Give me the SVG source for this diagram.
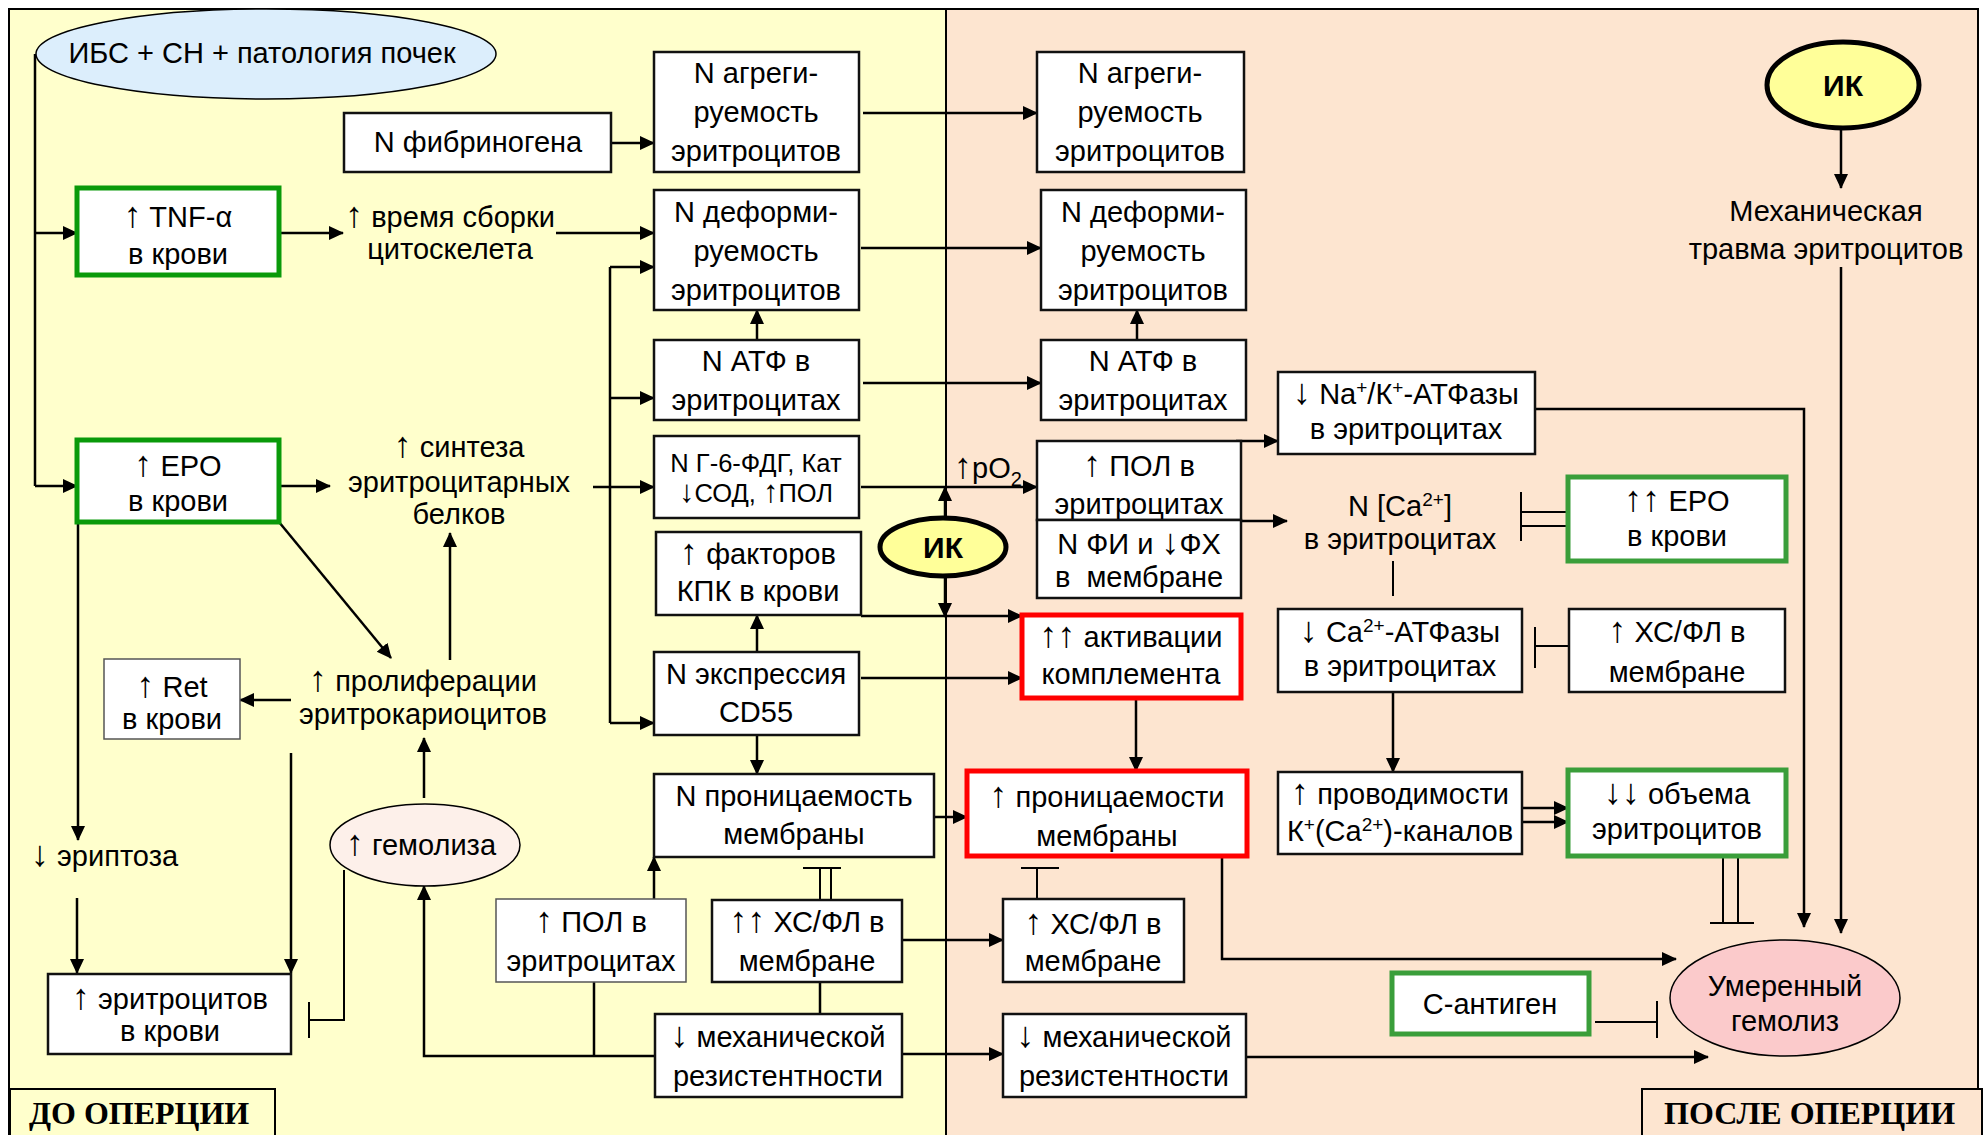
<svg xmlns="http://www.w3.org/2000/svg" width="1984" height="1135" viewBox="0 0 1984 1135">
<defs>
<marker id="ah" markerUnits="userSpaceOnUse" markerWidth="16" markerHeight="16" refX="14" refY="7" orient="auto"><path d="M0,0 L15,7 L0,14 z" fill="#000"/></marker>
<style>
.t{font-family:"Liberation Sans",Arial,sans-serif;font-size:29px;text-anchor:middle;fill:#000}
.ts{font-size:25.5px}
.ar{font-size:36px}
.lb{font-family:"Liberation Serif","Times New Roman",serif;font-size:32px;font-weight:bold;fill:#000}
.bx{fill:#fff;stroke:#111;stroke-width:2.5}
.bt{fill:#fff;stroke:#555;stroke-width:1.5}
.g1{fill:#fff;stroke:#0A9A0A;stroke-width:5}
.g2{fill:#fff;stroke:#3A9E3A;stroke-width:5}
.rd{fill:#fff;stroke:#FF0000;stroke-width:5}
.c{fill:none;stroke:#000;stroke-width:2.5}
.a{marker-end:url(#ah)}
.i{fill:none;stroke:#000;stroke-width:2}
.ik{fill:#FFFF99;stroke:#000;stroke-width:5}
.ikt{font-family:"Liberation Sans",Arial,sans-serif;font-size:30px;font-weight:bold;text-anchor:middle}
</style>
</defs>
<rect width="1984" height="1135" fill="#fff"/>
<g id="background">
<rect x="9" y="9" width="937" height="1130" fill="#FFFFCC"/>
<rect x="946" y="9" width="1032" height="1130" fill="#FDE5D0"/>
<rect x="9" y="9" width="1969" height="1130" fill="none" stroke="#000" stroke-width="2"/>
<line x1="946" y1="9" x2="946" y2="1135" stroke="#000" stroke-width="2"/>
</g>

<g id="connectors">
<path class="c" d="M35,54 V486"/>
<path class="c a" d="M35,233 H77"/>
<path class="c a" d="M35,486 H77"/>
<path class="c a" d="M279,233 H343"/>
<path class="c a" d="M556,233 H654"/>
<path class="c" d="M610,267 V723"/>
<path class="c a" d="M610,267 H654"/>
<path class="c a" d="M610,398 H654"/>
<path class="c a" d="M610,723 H654"/>
<path class="c a" d="M611,143 H654"/>
<path class="c a" d="M863,113 H1037"/>
<path class="c a" d="M861,248 H1041"/>
<path class="c a" d="M757,340 V310"/>
<path class="c a" d="M1137,340 V310"/>
<path class="c a" d="M863,383 H1041"/>
<path class="c a" d="M279,486 H330"/>
<path class="c a" d="M593,487 H654"/>
<path class="c a" d="M861,487 H1037"/>
<path class="c a" d="M945,518 V487"/>
<path class="c a" d="M945,576 V617"/>
<path class="c a" d="M861,616 H1022"/>
<path class="c a" d="M757,652 V615"/>
<path class="c a" d="M861,678 H1022"/>
<path class="c a" d="M757,735 V774"/>
<path class="c a" d="M1136,698 V771"/>
<path class="c a" d="M934,817 H967"/>
<path class="c a" d="M654,899 V857"/>
<path class="c" d="M594,982 V1056"/>
<path class="c a" d="M655,1056 H424 V886"/>
<path class="c" d="M820,982 V1014"/>
<path class="c a" d="M902,940 H1003"/>
<path class="c a" d="M902,1054 H1003"/>
<path class="c a" d="M1246,1057 H1708"/>
<path class="c a" d="M1222,856 V959 H1676"/>
<path class="c a" d="M1236,441 H1278"/>
<path class="c a" d="M1241,521 H1287"/>
<path class="c a" d="M1535,409 H1804 V927"/>
<path class="c a" d="M1841,267 V933"/>
<path class="c a" d="M1841,128 V188"/>
<path class="i" d="M1393,561 V596"/>
<path class="c a" d="M1393,692 V772"/>
<path class="c a" d="M1522,808 H1568"/>
<path class="c a" d="M1522,822 H1568"/>
<path class="i" d="M1723,856 V923 M1738,856 V923 M1710,923 H1754"/>
<path class="i" d="M1568,512 H1521 M1568,526 H1521 M1521,492 V541"/>
<path class="i" d="M1568,646 H1535 M1535,627 V668"/>
<path class="i" d="M1595,1022 H1657 M1657,1001 V1038"/>
<path class="i" d="M820,900 V868 M831,900 V868 M803,868 H841"/>
<path class="i" d="M1037,899 V868 M1021,868 H1059"/>
<path class="c a" d="M279,522 L391,658"/>
<path class="c a" d="M450,660 V533"/>
<path class="c a" d="M291,700 H240"/>
<path class="c a" d="M78,522 V840"/>
<path class="c a" d="M77,898 V973"/>
<path class="c a" d="M291,753 V973"/>
<path class="i" d="M344,870 V1020 H309 M309,1002 V1038"/>
<path class="c a" d="M424,798 V738"/>
<text class="t" x="988" y="478"><tspan class="ar">↑</tspan>pO<tspan dy="8" font-size="20">2</tspan></text>
</g>

<g id="ibs"><ellipse cx="266" cy="54" rx="230" ry="45" fill="#DCEEFC" stroke="#000" stroke-width="1.5"/><text class="t" x="262" y="63">ИБС + СН + патология почек</text></g>
<g id="fib"><rect class="bx" x="344" y="113" width="267" height="59"/><text class="t" x="478" y="152">N фибриногена</text></g>
<g id="tnf"><rect class="g1" x="77" y="188" width="202" height="87"/><text class="t"><tspan x="178" y="227"><tspan class="ar">↑</tspan> TNF-α</tspan><tspan x="178" y="264">в крови</tspan></text></g>
<g id="cytoskeleton"><text class="t"><tspan x="450" y="227"><tspan class="ar">↑</tspan> время сборки</tspan><tspan x="450" y="259">цитоскелета</tspan></text></g>
<g id="epo"><rect class="g1" x="77" y="440" width="202" height="82"/><text class="t"><tspan x="178" y="476"><tspan class="ar">↑</tspan> EPO</tspan><tspan x="178" y="511">в крови</tspan></text></g>
<g id="synth"><text class="t"><tspan x="459" y="457"><tspan class="ar">↑</tspan> синтеза</tspan><tspan x="459" y="492">эритроцитарных</tspan><tspan x="459" y="524">белков</tspan></text></g>
<g id="ret"><rect class="bt" x="104" y="659" width="136" height="80"/><text class="t"><tspan x="172" y="697"><tspan class="ar">↑</tspan> Ret</tspan><tspan x="172" y="729">в крови</tspan></text></g>
<g id="prolif"><text class="t"><tspan x="423" y="691"><tspan class="ar">↑</tspan> пролиферации</tspan><tspan x="423" y="724">эритрокариоцитов</tspan></text></g>
<g id="eryptosis"><text class="t" x="31" y="866" style="text-anchor:start"><tspan class="ar">↓</tspan> эриптоза</text></g>
<g id="ery_blood"><rect class="bx" x="48" y="974" width="243" height="80"/><text class="t"><tspan x="170" y="1009"><tspan class="ar">↑</tspan> эритроцитов</tspan><tspan x="170" y="1041">в крови</tspan></text></g>
<g id="hemolysis_up"><ellipse cx="425" cy="845" rx="95" ry="41" fill="#FDF0EA" stroke="#000" stroke-width="1.5"/><text class="t" x="421" y="855"><tspan class="ar">↑</tspan> гемолиза</text></g>

<g id="agr_l"><rect class="bx" x="654" y="52" width="205" height="120"/><text class="t"><tspan x="756" y="83">N агреги-</tspan><tspan x="756" y="122">руемость</tspan><tspan x="756" y="161">эритроцитов</tspan></text></g>
<g id="def_l"><rect class="bx" x="654" y="190" width="205" height="120"/><text class="t"><tspan x="756" y="222">N деформи-</tspan><tspan x="756" y="261">руемость</tspan><tspan x="756" y="300">эритроцитов</tspan></text></g>
<g id="atp_l"><rect class="bx" x="654" y="340" width="205" height="80"/><text class="t"><tspan x="756" y="371">N АТФ в</tspan><tspan x="756" y="410">эритроцитах</tspan></text></g>
<g id="g6pd_l"><rect class="bx" x="654" y="436" width="205" height="82"/><text class="t ts"><tspan x="756" y="472">N Г-6-ФДГ, Кат</tspan><tspan x="756" y="502"><tspan font-size="31px">↓</tspan>СОД, <tspan font-size="31px">↑</tspan>ПОЛ</tspan></text></g>
<g id="kpk_l"><rect class="bx" x="656" y="532" width="205" height="83"/><text class="t"><tspan x="758" y="564"><tspan class="ar">↑</tspan> факторов</tspan><tspan x="758" y="601">КПК в крови</tspan></text></g>
<g id="cd55_l"><rect class="bx" x="654" y="652" width="205" height="83"/><text class="t"><tspan x="756" y="684">N экспрессия</tspan><tspan x="756" y="722">CD55</tspan></text></g>
<g id="perm_l"><rect class="bx" x="654" y="774" width="280" height="83"/><text class="t"><tspan x="794" y="806">N проницаемость</tspan><tspan x="794" y="844">мембраны</tspan></text></g>
<g id="pol_l"><rect class="bt" x="496" y="899" width="190" height="83"/><text class="t"><tspan x="591" y="932"><tspan class="ar">↑</tspan> ПОЛ в</tspan><tspan x="591" y="971">эритроцитах</tspan></text></g>
<g id="xs_l"><rect class="bx" x="712" y="900" width="190" height="82"/><text class="t"><tspan x="807" y="932"><tspan class="ar">↑↑</tspan> ХС/ФЛ в</tspan><tspan x="807" y="971">мембране</tspan></text></g>
<g id="mech_l"><rect class="bx" x="655" y="1014" width="247" height="83"/><text class="t"><tspan x="778" y="1047"><tspan class="ar">↓</tspan> механической</tspan><tspan x="778" y="1086">резистентности</tspan></text></g>
<g id="ik_mid"><ellipse class="ik" cx="943" cy="547" rx="63" ry="29"/><text class="ikt" x="943" y="558">ИК</text></g>

<g id="agr_r"><rect class="bx" x="1037" y="52" width="207" height="120"/><text class="t"><tspan x="1140" y="83">N агреги-</tspan><tspan x="1140" y="122">руемость</tspan><tspan x="1140" y="161">эритроцитов</tspan></text></g>
<g id="def_r"><rect class="bx" x="1041" y="190" width="205" height="120"/><text class="t"><tspan x="1143" y="222">N деформи-</tspan><tspan x="1143" y="261">руемость</tspan><tspan x="1143" y="300">эритроцитов</tspan></text></g>
<g id="atp_r"><rect class="bx" x="1041" y="340" width="205" height="80"/><text class="t"><tspan x="1143" y="371">N АТФ в</tspan><tspan x="1143" y="410">эритроцитах</tspan></text></g>
<g id="pol_r"><rect class="bx" x="1037" y="441" width="204" height="79"/><text class="t"><tspan x="1139" y="476"><tspan class="ar">↑</tspan> ПОЛ в</tspan><tspan x="1139" y="514">эритроцитах</tspan></text></g>
<g id="fi_r"><rect class="bx" x="1037" y="520" width="204" height="78"/><text class="t"><tspan x="1139" y="554">N ФИ и <tspan class="ar">↓</tspan>ФХ</tspan><tspan x="1139" y="587" xml:space="preserve">в  мембране</tspan></text></g>
<g id="comp_r"><rect class="rd" x="1022" y="615" width="219" height="83"/><text class="t"><tspan x="1131" y="647"><tspan class="ar">↑↑</tspan> активации</tspan><tspan x="1131" y="684">комплемента</tspan></text></g>
<g id="perm_r"><rect class="rd" x="967" y="771" width="280" height="85"/><text class="t"><tspan x="1107" y="807"><tspan class="ar">↑</tspan> проницаемости</tspan><tspan x="1107" y="846">мембраны</tspan></text></g>
<g id="xs_r"><rect class="bx" x="1003" y="899" width="181" height="83"/><text class="t"><tspan x="1093" y="934"><tspan class="ar">↑</tspan> ХС/ФЛ в</tspan><tspan x="1093" y="971">мембране</tspan></text></g>
<g id="mech_r"><rect class="bx" x="1003" y="1014" width="243" height="83"/><text class="t"><tspan x="1124" y="1047"><tspan class="ar">↓</tspan> механической</tspan><tspan x="1124" y="1086">резистентности</tspan></text></g>

<g id="nak"><rect class="bx" x="1278" y="372" width="257" height="82"/><text class="t"><tspan x="1406" y="404"><tspan class="ar">↓</tspan> Na<tspan dy="-10" font-size="19">+</tspan><tspan dy="10">/К</tspan><tspan dy="-10" font-size="19">+</tspan><tspan dy="10">-АТФазы</tspan></tspan><tspan x="1406" y="439">в эритроцитах</tspan></text></g>
<g id="ca_conc"><text class="t"><tspan x="1400" y="516">N [Ca<tspan dy="-10" font-size="19">2+</tspan><tspan dy="10">]</tspan></tspan><tspan x="1400" y="549">в эритроцитах</tspan></text></g>
<g id="epo_r"><rect class="g2" x="1568" y="477" width="218" height="84"/><text class="t"><tspan x="1677" y="511"><tspan class="ar">↑↑</tspan> EPO</tspan><tspan x="1677" y="546">в крови</tspan></text></g>
<g id="caatp"><rect class="bx" x="1278" y="609" width="244" height="83"/><text class="t"><tspan x="1400" y="642"><tspan class="ar">↓</tspan> Ca<tspan dy="-10" font-size="19">2+</tspan><tspan dy="10">-АТФазы</tspan></tspan><tspan x="1400" y="676">в эритроцитах</tspan></text></g>
<g id="xs_r2"><rect class="bx" x="1569" y="609" width="216" height="83"/><text class="t"><tspan x="1677" y="642"><tspan class="ar">↑</tspan> ХС/ФЛ в</tspan><tspan x="1677" y="682">мембране</tspan></text></g>
<g id="prov"><rect class="bx" x="1278" y="772" width="244" height="82"/><text class="t"><tspan x="1400" y="804"><tspan class="ar">↑</tspan> проводимости</tspan><tspan x="1400" y="841">К<tspan dy="-10" font-size="19">+</tspan><tspan dy="10">(Ca</tspan><tspan dy="-10" font-size="19">2+</tspan><tspan dy="10">)-каналов</tspan></tspan></text></g>
<g id="vol"><rect class="g2" x="1568" y="770" width="218" height="86"/><text class="t"><tspan x="1677" y="804"><tspan class="ar">↓↓</tspan> объема</tspan><tspan x="1677" y="839">эритроцитов</tspan></text></g>
<g id="cantigen"><rect class="g2" x="1392" y="973" width="197" height="61"/><text class="t" x="1490" y="1014">С-антиген</text></g>
<g id="hemolysis_mod"><ellipse cx="1785" cy="998" rx="115" ry="58" fill="#FBCACB" stroke="#000" stroke-width="1.5"/><text class="t"><tspan x="1785" y="996">Умеренный</tspan><tspan x="1785" y="1031">гемолиз</tspan></text></g>
<g id="ik_top"><ellipse class="ik" cx="1843" cy="85" rx="76" ry="43"/><text class="ikt" x="1843" y="96">ИК</text></g>
<g id="trauma"><text class="t"><tspan x="1826" y="221">Механическая</tspan><tspan x="1826" y="259">травма эритроцитов</tspan></text></g>

<g id="label_before"><rect x="10" y="1089" width="265" height="50" fill="#FFFFCC" stroke="#000" stroke-width="2"/><text class="lb" x="29" y="1124">ДО ОПЕРЦИИ</text></g>
<g id="label_after"><rect x="1642" y="1089" width="340" height="50" fill="#FDE5D0" stroke="#000" stroke-width="2"/><text class="lb" x="1664" y="1124">ПОСЛЕ ОПЕРЦИИ</text></g>
</svg>
